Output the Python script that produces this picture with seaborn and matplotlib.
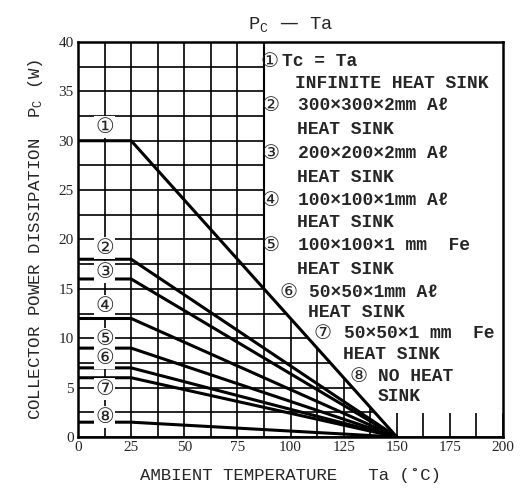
import numpy as np
import pandas as pd
import matplotlib.pyplot as plt
import seaborn as sns

# curve data: flat up to the knee, then linear derating to zero
curve_ids = ['1', '2', '3', '4', '5', '6', '7', '8']
circled = ['①', '②', '③', '④', '⑤', '⑥', '⑦', '⑧']
pc_max = [30, 18, 16, 12, 9, 7, 6, 1.5]
ta_points = [0, 25, 150]
label_y = [31.4, 19.1, 16.7, 13.3, 9.9, 8.0, 4.9, 2.0]

legend_lines = [
    ('①', 'Tc = Ta'), (None, 'INFINITE HEAT SINK'),
    ('②', '300×300×2mm Aℓ'), (None, 'HEAT SINK'),
    ('③', '200×200×2mm Aℓ'), (None, 'HEAT SINK'),
    ('④', '100×100×1mm Aℓ'), (None, 'HEAT SINK'),
    ('⑤', '100×100×1 mm  Fe'), (None, 'HEAT SINK'),
    ('⑥', '50×50×1mm Aℓ'), (None, 'HEAT SINK'),
    ('⑦', '50×50×1 mm  Fe'), (None, 'HEAT SINK'),
    ('⑧', 'NO HEAT'), (None, 'SINK'),
]

rows = []
for cid, pmax in zip(curve_ids, pc_max):
    for ta, p in zip(ta_points, [pmax, pmax, 0]):
        rows.append({'curve': cid, 'Ta': ta, 'Pc': p})
df = pd.DataFrame(rows)

sns.set_style('white')
mono = ['Liberation Mono', 'DejaVu Sans']
serif = ['Liberation Serif', 'DejaVu Serif']

fig = plt.figure(figsize=(5.24, 4.94), dpi=100)
ax = fig.add_axes([0.149, 0.1154, 0.811, 0.7996])

sns.lineplot(data=df, x='Ta', y='Pc', hue='curve', palette=['black'] * 8,
             legend=False, linewidth=2.2, ax=ax, zorder=3)

ax.set_xlim(0, 200)
ax.set_ylim(0, 40)
ax.set_xticks(np.arange(0, 201, 25))
ax.set_yticks(np.arange(0, 41, 5))
ax.set_xticks(np.arange(0, 201, 12.5), minor=True)
ax.set_yticks(np.arange(0, 41, 2.5), minor=True)
ax.grid(which='both', color='black', linewidth=1.2)
ax.set_axisbelow(True)
ax.tick_params(which='both', length=0, labelsize=11, pad=3)
for lab in ax.get_xticklabels() + ax.get_yticklabels():
    lab.set_family(serif)
for s in ax.spines.values():
    s.set_color('black')
    s.set_linewidth(1.8)

# blank box above curve 1 for the legend text
x_edge = 87.5
y_edge = 30 * (150 - x_edge) / 125
x_low = 150 - 2.5 * 125 / 30
ax.fill([x_edge, 200, 200, x_low, x_edge], [40, 40, 2.5, 2.5, y_edge],
        color='white', zorder=1)
ax.plot([x_edge, x_edge], [40, y_edge], color='black', lw=1.5, zorder=2)

for mark, y in zip(circled, label_y):
    ax.text(12.5, y, mark, ha='center', va='center', fontsize=15,
            family='DejaVu Sans', zorder=4,
            bbox=dict(boxstyle='square,pad=0.05', fc='white', ec='none'))

def px2x(px):
    return (px - 78) / 425 * 200

def px2y(py):
    return (437 - py) / 9.875

leg_y = [62, 84, 106, 130, 154, 178, 201, 223, 246, 270,
         293, 313, 334, 355, 377, 397]
mark_x = [269, 270, 270, 270, 270, 288, 322, 358]
text_x = [282, 295, 298, 297, 298, 297, 298, 297, 298, 297,
          309, 308, 344, 343, 378, 378]
mi = 0
for i, (mark, txt) in enumerate(legend_lines):
    y = px2y(leg_y[i])
    if mark is not None:
        ax.text(px2x(mark_x[mi]), y, mark, ha='center', va='center',
                fontsize=14.5, family='DejaVu Sans', zorder=4)
        mi += 1
    ax.text(px2x(text_x[i]), y, txt, ha='left', va='center', fontsize=13,
            family=mono, fontweight='bold', zorder=4)

ax.set_xlabel('AMBIENT TEMPERATURE   Ta (˚C)', family=mono, fontsize=12.5,
              labelpad=10)
ax.set_ylabel('COLLECTOR POWER DISSIPATION  $\\mathregular{P_C}$ (W)',
              family=mono, fontsize=12.5, labelpad=10)
ax.set_title('$\\mathregular{P_C}$ — Ta', family=mono, fontsize=13.5, pad=9)

fig.savefig('out.png', dpi=100)
